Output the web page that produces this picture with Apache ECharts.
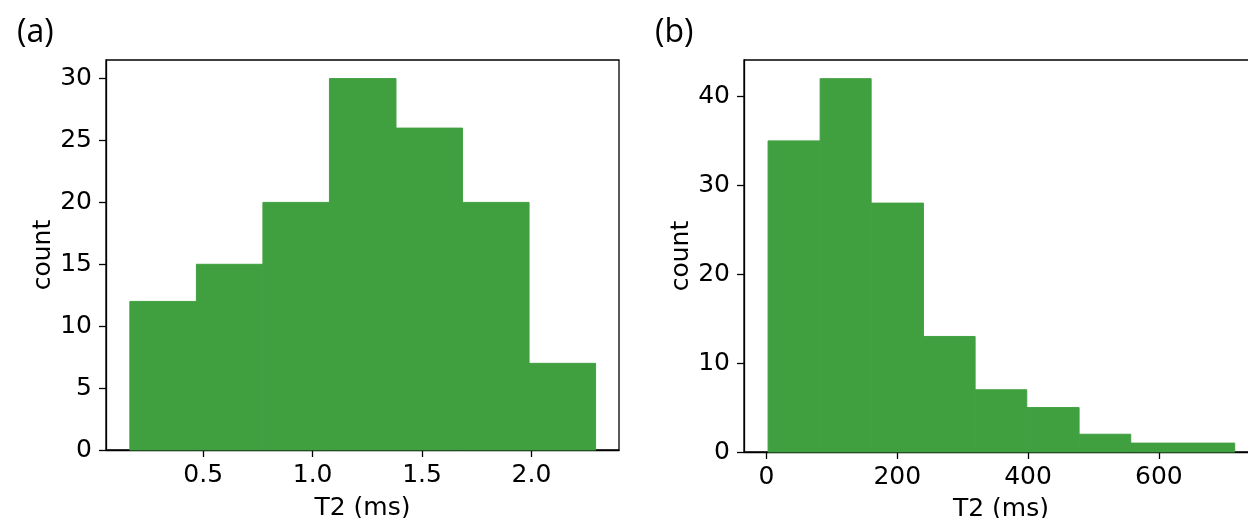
<!DOCTYPE html>
<html>
<head>
<meta charset="utf-8">
<script src="https://cdn.jsdelivr.net/npm/echarts@6/dist/echarts.min.js"></script>
<style>
  html, body { margin: 0; padding: 0; background: #fff; }
  #chart { width: 1248px; height: 518px; }
</style>
</head>
<body>
<div id="chart"></div>
<script>
// (a) 直方圖 bin 邊界與計數
const edgesA = [0.165, 0.469, 0.773, 1.077, 1.381, 1.685, 1.989, 2.293];
const countsA = [12, 15, 20, 30, 26, 20, 7];
const xTicksA = [0.5, 1.0, 1.5, 2.0];
const yTicksA = [0, 5, 10, 15, 20, 25, 30];

// (b) 直方圖 bin 邊界與計數
const edgesB = [2.4, 82, 160, 240, 319, 398, 478, 557, 637, 716];
const countsB = [35, 42, 28, 13, 7, 5, 2, 1, 1];
const xTicksB = [0, 200, 400, 600];
const yTicksB = [0, 10, 20, 30, 40];

const barColor = "#40a040";
const axisFont = "'DejaVu Sans', sans-serif";
const panelFont = "'Open Sans', 'Noto Sans', sans-serif";

// 把邊界+計數轉成 custom series 的資料 [x0, x1, count]
const toBins = (edges, counts) =>
  counts.map((c, i) => [edges[i], edges[i + 1], c]);

const renderBin = (params, api) => {
  const p0 = api.coord([api.value(0), api.value(2)]);
  const p1 = api.coord([api.value(1), 0]);
  return {
    type: "rect",
    shape: { x: p0[0], y: p0[1], width: p1[0] - p0[0], height: p1[1] - p0[1] },
    style: { fill: barColor, stroke: barColor, lineWidth: 1 },
  };
};

const axisCommon = {
  type: "value",
  splitLine: { show: false },
  axisLine: { show: true, onZero: false, lineStyle: { color: "#000", width: 1.3 } },
  axisTick: { show: true, inside: false, length: 7, lineStyle: { color: "#000", width: 1.3 } },
  nameLocation: "middle",
  nameTextStyle: { fontSize: 25, color: "#000", fontFamily: axisFont },
};

const labelStyle = { fontSize: 25, color: "#000", fontFamily: axisFont };

const myChart = echarts.init(document.getElementById("chart"));

const option = {
  backgroundColor: "#fff",
  animation: false,
  title: [
    { text: "(a)", left: 12, top: 12, textStyle: { fontSize: 32, fontWeight: "normal", color: "#000", fontFamily: panelFont } },
    { text: "(b)", left: 650, top: 12, textStyle: { fontSize: 32, fontWeight: "normal", color: "#000", fontFamily: panelFont } },
  ],
  grid: [
    { left: 106, top: 60, width: 513, height: 390, outerBoundsMode: "none", containLabel: false, show: true, borderColor: "#000", borderWidth: 1.3, backgroundColor: "transparent" },
    { left: 744, top: 60, width: 514, height: 392, outerBoundsMode: "none", containLabel: false, show: true, borderColor: "#000", borderWidth: 1.3, backgroundColor: "transparent" },
  ],
  xAxis: [
    {
      ...axisCommon,
      gridIndex: 0,
      min: 0.056,
      max: 2.4,
      name: "T2 (ms)",
      nameGap: 46,
      axisTick: { ...axisCommon.axisTick, customValues: xTicksA },
      axisLabel: { ...labelStyle, margin: 13, customValues: xTicksA, formatter: (v) => v.toFixed(1) },
    },
    {
      ...axisCommon,
      gridIndex: 1,
      min: -34.4,
      max: 751.6,
      name: "T2 (ms)",
      nameGap: 45,
      axisTick: { ...axisCommon.axisTick, customValues: xTicksB },
      axisLabel: { ...labelStyle, margin: 13, customValues: xTicksB },
    },
  ],
  yAxis: [
    {
      ...axisCommon,
      gridIndex: 0,
      min: 0,
      max: 31.5,
      name: "count",
      nameGap: 43,
      axisTick: { ...axisCommon.axisTick, customValues: yTicksA },
      axisLabel: { ...labelStyle, margin: 14, customValues: yTicksA },
    },
    {
      ...axisCommon,
      gridIndex: 1,
      min: 0,
      max: 44.1,
      name: "count",
      nameGap: 45,
      axisTick: { ...axisCommon.axisTick, customValues: yTicksB },
      axisLabel: { ...labelStyle, margin: 14, customValues: yTicksB },
    },
  ],
  series: [
    {
      type: "custom",
      xAxisIndex: 0,
      yAxisIndex: 0,
      renderItem: renderBin,
      encode: { x: [0, 1], y: 2 },
      data: toBins(edgesA, countsA),
    },
    {
      type: "custom",
      xAxisIndex: 1,
      yAxisIndex: 1,
      renderItem: renderBin,
      encode: { x: [0, 1], y: 2 },
      data: toBins(edgesB, countsB),
    },
  ],
};

myChart.setOption(option);
</script>
</body>
</html>
